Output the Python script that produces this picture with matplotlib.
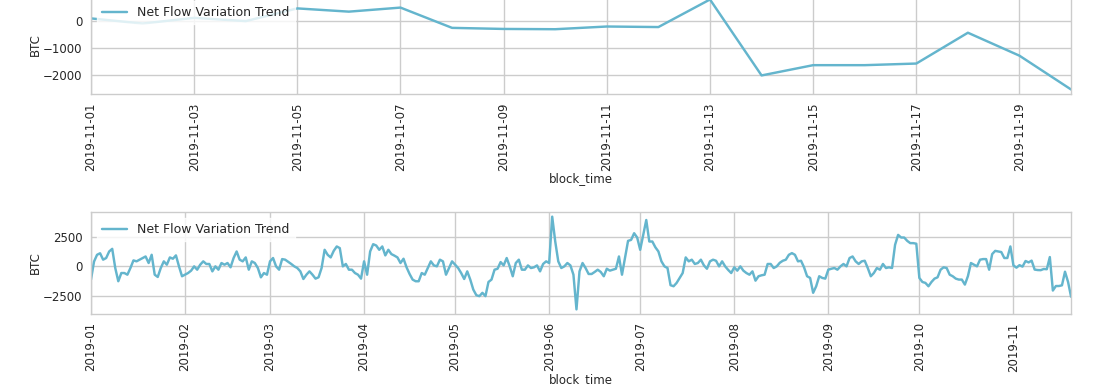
import numpy as np
import pandas as pd
import matplotlib
matplotlib.use("Agg")
import matplotlib.pyplot as plt
import matplotlib.dates as mdates

plt.style.use("seaborn-v0_8-whitegrid")
plt.rcParams["font.family"] = ["DejaVu Sans"]

# Daily net flow (BTC), 2019-01-01 .. 2019-10-31
jan = [-1110, 400, 970, 1100, 560, 700, 1250, 1470, -140, -1250, -560, -560, -700, -140, 500, 420,
       560, 700, 830, 280, 970, -700, -890, -140, 420, 140, 750, 640, 920, 0, -830]
feb = [-700, -560, -360, 0, -280, 140, 420, 200, 200, -420, 0, -280, 280, 140, 280, -80, 700, 1250,
       560, 420, 750, -280, 420, 280, -140, -920, -560, -700]
mar = [420, 700, 0, -280, 610, 560, 380, 200, 0, -140, -420, -1060, -700, -420, -700, -1030, -920,
       -140, 1390, 970, 750, 1300, 1670, 1530, 0, 200, -280, -280, -560, -700, -1030]
apr = [420, -700, 1250, 1860, 1750, 1390, 1670, 920, 1390, 1030, 900, 750, 280, 640, -80, -640,
       -1110, -1250, -1250, -560, -700, -140, 420, 80, 0, 560, 420, -700, -140, 420]
may = [140, -140, -560, -1060, -420, -1110, -1950, -2420, -2500, -2220, -2500, -1310, -1110, -280,
       -200, 360, 80, 700, 0, -830, 280, 560, -280, -280, 80, -140, -80, 80, -420, 200, 420]
jun = [280, 4170, 2085, 420, -140, 0, 280, 80, -700, -3610, -420, 280, -140, -640, -640, -470, -280,
       -470, -830, -200, -360, -280, -200, 830, -700, 700, 2140, 2220, 2780, 2420]
jul = [1390, 2640, 3890, 2085, 2085, 1600, 1250, 420, 0, -140, -1580, -1670, -1390, -970, -560, 750,
       420, 560, 200, 280, 560, 80, -200, 420, 560, 470, 0, 420, 0, -300, -560]
aug = [-80, -360, 0, -360, -560, -700, -420, -1200, -830, -750, -700, 200, 200, -140, 0, 300, 470,
       560, 970, 1110, 970, 420, 470, -80, -830, -970, -2220, -1670, -830, -970, -1030]
sep = [-280, -200, -140, -280, 0, 200, 0, 700, 830, 420, 200, 420, 470, -140, -830, -560, -140, -280,
       200, -140, -80, -140, 1810, 2640, 2420, 2420, 2140, 1950, 1950, 1900]
oct_ = [-970, -1310, -1390, -1670, -1310, -1030, -920, -280, -80, -140, -700, -830, -1030, -1110,
        -1110, -1530, -830, 280, 140, 0, 560, 610, 610, -280, 1030, 1300, 1250, 1200, 700, 700, 1670]
# 2019-11-01 .. 2019-11-20
nov = [80, -110, 100, -20, 450, 330, 480, -270, -310, -320, -220, -240, 780, -2030, -1650, -1650,
       -1590, -450, -1300, -2550]

values = jan + feb + mar + apr + may + jun + jul + aug + sep + oct_ + nov
dates = pd.date_range("2019-01-01", periods=len(values), freq="D")
flow = pd.Series(values, index=dates, name="Net Flow Variation Trend")
recent = flow["2019-11-01":"2019-11-20"]

line_color = "#64B5CD"
fs = 8.5

fig = plt.figure(figsize=(11.15, 3.86), dpi=100)
ax1 = fig.add_axes([0.0816, 0.7565, 0.879, 0.2565])
ax2 = fig.add_axes([0.0816, 0.1865, 0.879, 0.2642])

for ax, s in ((ax1, recent), (ax2, flow)):
    ax.plot(s.index, s.values, color=line_color, linewidth=1.75, label=s.name)
    ax.set_xlim(s.index[0], s.index[-1])
    ax.set_ylabel("BTC", fontsize=fs, color=".15", labelpad=1)
    ax.set_xlabel("block_time", fontsize=fs, color=".15", labelpad=1)
    ax.tick_params(labelsize=fs, colors=".15", length=0, pad=6)
    ax.grid(True, color=".8", linewidth=1)
    for sp in ax.spines.values():
        sp.set_color(".8")
    leg = ax.legend(loc="upper left", fontsize=9, frameon=True, facecolor="white",
                    edgecolor="white", framealpha=0.8)
    for t in leg.get_texts():
        t.set_color(".15")

ax1.xaxis.set_major_locator(mdates.DayLocator(bymonthday=range(1, 32, 2)))
ax1.xaxis.set_major_formatter(mdates.DateFormatter("%Y-%m-%d"))
ax1.yaxis.set_major_locator(plt.MultipleLocator(1000))
ax2.xaxis.set_major_locator(mdates.MonthLocator())
ax2.xaxis.set_major_formatter(mdates.DateFormatter("%Y-%m"))
ax2.yaxis.set_major_locator(plt.MultipleLocator(2500))

for ax in (ax1, ax2):
    for lbl in ax.get_xticklabels():
        lbl.set_rotation(90)

fig.savefig("out.png", dpi=100)
